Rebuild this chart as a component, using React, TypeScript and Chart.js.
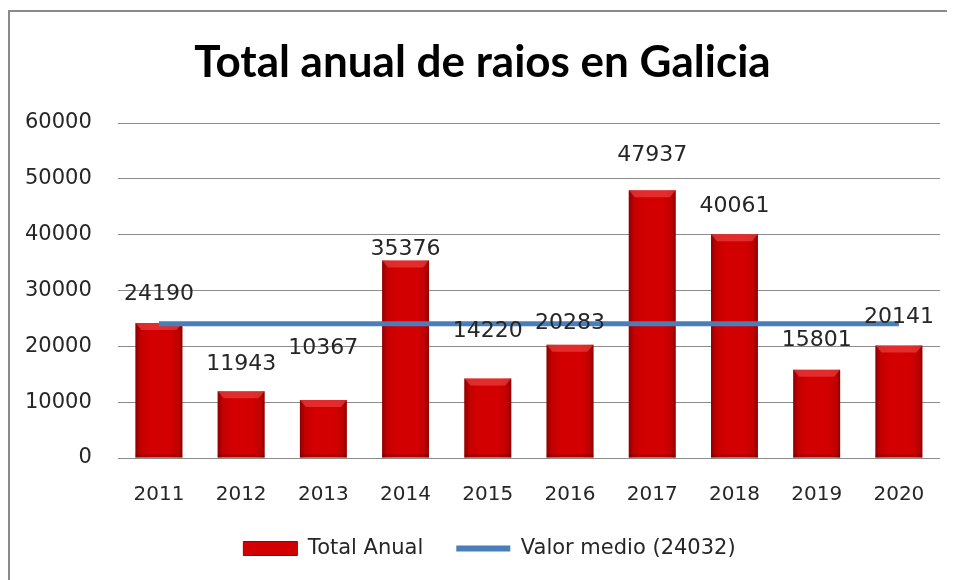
import React, { useEffect, useRef } from 'react';
import { Chart, registerables } from 'chart.js';

Chart.register(...registerables);

// ---- data ----
const years = ['2011', '2012', '2013', '2014', '2015', '2016', '2017', '2018', '2019', '2020'];
const totalAnual = [24190, 11943, 10367, 35376, 14220, 20283, 47937, 40061, 15801, 20141];
const valorMedio = 24032;
const mediaSeries = years.map(() => valorMedio);
const yMin = 0;
const yMax = 60000;
const yStep = 10000;
const titleText = 'Total anual de raios en Galicia';
const barLabel = 'Total Anual';
const lineLabel = 'Valor medio (24032)';

// ---- styling (pixel nudges of the value labels above each bar top) ----
const labelLift = [29, 27, 52, 11, 47, 21, 35, 28, 29, 28];

const FONT = '"DejaVu Sans", sans-serif';
const TEXT = '#262626';
const RED = '#d20000';
const BLUE = '#4a7ebb';

const titlePlugin = {
  id: 'condensedTitle',
  afterDraw(chart: any) {
    const ctx = chart.ctx;
    ctx.save();
    ctx.font = 'bold 44px Lato, sans-serif';
    const w = ctx.measureText(titleText).width;
    const target = 579;
    const sx = Math.min(1, target / w);
    ctx.translate(chart.width / 2, 65);
    ctx.scale(sx, 1);
    ctx.fillStyle = '#000';
    ctx.textAlign = 'center';
    ctx.textBaseline = 'alphabetic';
    ctx.fillText(titleText, 0, 0);
    ctx.restore();
  },
};

const barShadePlugin = {
  id: 'barShade',
  afterDatasetDraw(chart: any, args: any) {
    if (args.index !== 0) return;
    const ctx = chart.ctx;
    const meta = chart.getDatasetMeta(0);
    ctx.save();
    meta.data.forEach((el: any) => {
      const p = el.getProps(['x', 'y', 'base', 'width'], true);
      const left = p.x - p.width / 2;
      const right = p.x + p.width / 2;
      const top = p.y;
      const bottom = p.base;
      const g = ctx.createLinearGradient(left, 0, right, 0);
      g.addColorStop(0, 'rgba(80,0,0,0.55)');
      g.addColorStop(0.1, 'rgba(80,0,0,0.12)');
      g.addColorStop(0.3, 'rgba(80,0,0,0)');
      g.addColorStop(0.75, 'rgba(80,0,0,0)');
      g.addColorStop(0.92, 'rgba(80,0,0,0.15)');
      g.addColorStop(1, 'rgba(80,0,0,0.55)');
      ctx.fillStyle = g;
      ctx.fillRect(left, top, right - left, bottom - top);
      // top bevel
      ctx.beginPath();
      ctx.moveTo(left, top);
      ctx.lineTo(right, top);
      ctx.lineTo(right - 6, top + 7);
      ctx.lineTo(left + 6, top + 7);
      ctx.closePath();
      ctx.fillStyle = 'rgba(255,110,110,0.4)';
      ctx.fill();
      // bottom shade
      ctx.fillStyle = 'rgba(90,0,0,0.3)';
      ctx.fillRect(left, bottom - 3, right - left, 3);
    });
    ctx.restore();
  },
};

const valueLabelPlugin = {
  id: 'valueLabels',
  afterDatasetsDraw(chart: any) {
    const ctx = chart.ctx;
    const meta = chart.getDatasetMeta(0);
    ctx.save();
    ctx.font = '22px ' + FONT;
    ctx.fillStyle = TEXT;
    ctx.textAlign = 'center';
    ctx.textBaseline = 'middle';
    meta.data.forEach((el: any, i: number) => {
      const p = el.getProps(['x', 'y'], true);
      ctx.fillText(String(totalAnual[i]), p.x, p.y - labelLift[i]);
    });
    ctx.restore();
  },
};

const legendShiftPlugin = {
  id: 'legendShift',
  afterLayout(chart: any) {
    if (chart.legend) {
      chart.legend.left += 7;
      chart.legend.right += 7;
    }
  },
};

export default function App() {
  const ref = useRef<HTMLCanvasElement | null>(null);

  useEffect(() => {
    if (!ref.current) return;
    Chart.defaults.font.family = FONT;
    const chart = new Chart(ref.current, {
      type: 'bar',
      data: {
        labels: years,
        datasets: [
          {
            type: 'bar',
            label: barLabel,
            data: totalAnual,
            backgroundColor: RED,
            borderWidth: 0,
            barPercentage: 0.57,
            categoryPercentage: 1,
            order: 1,
          } as any,
          {
            type: 'line',
            label: lineLabel,
            data: mediaSeries,
            borderColor: BLUE,
            backgroundColor: BLUE,
            borderWidth: 5,
            pointRadius: 0,
            pointHoverRadius: 0,
            fill: false,
            order: 0,
          } as any,
        ],
      },
      options: {
        responsive: false,
        animation: false,
        devicePixelRatio: 1,
        layout: { padding: { left: 15, right: 15, top: 111, bottom: 11 } },
        scales: {
          x: {
            grid: { display: false, drawTicks: false },
            border: { display: false },
            ticks: { color: TEXT, font: { size: 20, family: FONT }, padding: 25 },
            afterFit: (scale: any) => {
              scale.height -= 27;
            },
          },
          y: {
            min: yMin,
            max: yMax,
            grid: { color: '#8c8c8c', lineWidth: 1, drawTicks: false },
            border: { display: false },
            ticks: {
              stepSize: yStep,
              color: TEXT,
              font: { size: 21, family: FONT },
              padding: 26,
              callback: (v: any) => String(v),
            },
            afterFit: (scale: any) => {
              scale.width -= 26;
            },
          },
        },
        plugins: {
          title: { display: false },
          tooltip: { enabled: false },
          legend: {
            display: true,
            position: 'bottom',
            labels: {
              color: TEXT,
              font: { size: 21, family: FONT },
              usePointStyle: true,
              pointStyleWidth: 54,
              boxHeight: 14,
              padding: 33,
              generateLabels: (c: any) => [
                {
                  text: c.data.datasets[0].label,
                  fillStyle: RED,
                  strokeStyle: '#9a0000',
                  lineWidth: 1,
                  pointStyle: 'rect',
                  hidden: false,
                  datasetIndex: 0,
                  fontColor: TEXT,
                },
                {
                  text: c.data.datasets[1].label,
                  fillStyle: BLUE,
                  strokeStyle: BLUE,
                  lineWidth: 6,
                  pointStyle: 'line',
                  hidden: false,
                  datasetIndex: 1,
                  fontColor: TEXT,
                },
              ],
            },
          },
        },
      } as any,
      plugins: [titlePlugin, barShadePlugin, valueLabelPlugin, legendShiftPlugin],
    });
    return () => chart.destroy();
  }, []);

  return (
    <div style={{ width: 947, height: 572, overflow: 'hidden' }}>
      <div
        style={{
          marginTop: 2,
          width: 960,
          height: 570,
          borderTop: '2px solid #8a8a8a',
          borderLeft: '2px solid #8a8a8a',
          boxSizing: 'border-box',
        }}
      >
        <canvas ref={ref} width={945} height={568} style={{ display: 'block' }} />
      </div>
    </div>
  );
}
